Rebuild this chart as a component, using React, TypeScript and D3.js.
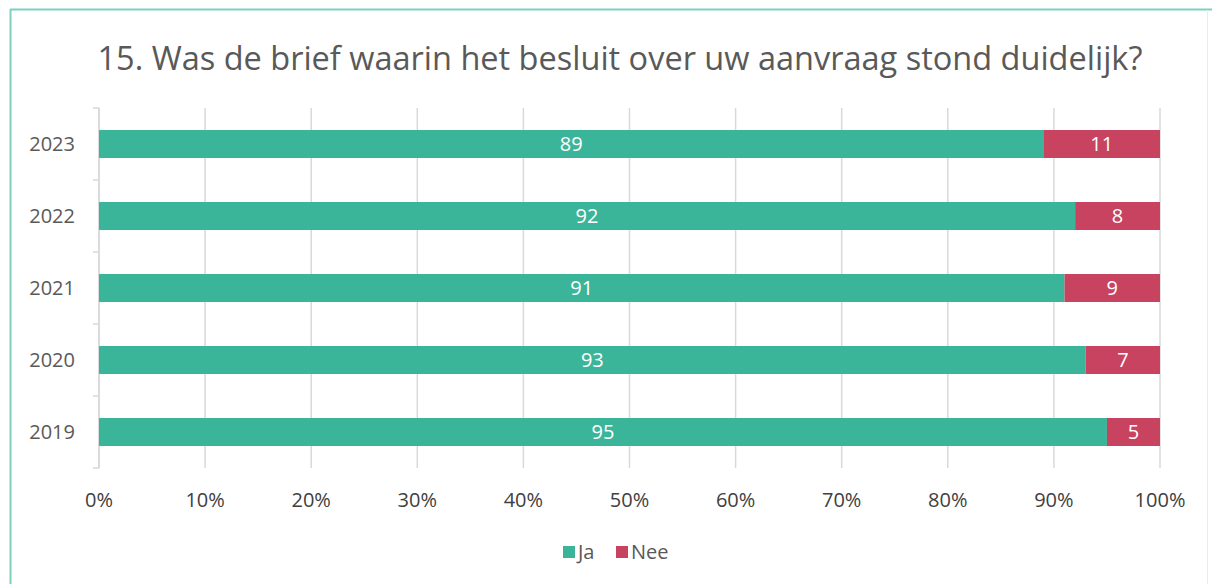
import React from "react";
import { scaleLinear, scaleBand, range } from "d3";

const years = ["2023", "2022", "2021", "2020", "2019"];
const ja = [89, 92, 91, 93, 95];
const nee = [11, 8, 9, 7, 5];
const xTicks = [0, 10, 20, 30, 40, 50, 60, 70, 80, 90, 100];
const seriesNames = ["Ja", "Nee"];
const title = "15. Was de brief waarin het besluit over uw aanvraag stond duidelijk?";

export default function App() {
  const width = 1212;
  const height = 584;
  const margin = { top: 108, right: 52, bottom: 116, left: 99 };
  const font = "'Open Sans', sans-serif";
  const colors = ["#3bb59a", "#c8435f"];
  const textGray = "#595959";
  const gridGray = "#d9d9d9";

  const x = scaleLinear().domain([0, 100]).range([margin.left, width - margin.right]);
  const y = scaleBand()
    .domain(years)
    .range([margin.top, height - margin.bottom])
    .paddingInner(0.611)
    .paddingOuter(0.3055);

  const bandEdges = range(years.length + 1).map(i => margin.top + i * y.step());

  return (
    <div style={{ position: "absolute", left: 0, top: 0 }}>
      <svg width={width} height={height} style={{ display: "block", background: "#fff" }}>
        {/* frame */}
        <line x1={10} x2={width} y1={9.5} y2={9.5} stroke="#7fcfbf" strokeWidth={2} />
        <line x1={10.5} x2={10.5} y1={9} y2={height} stroke="#7fcfbf" strokeWidth={2} />
        <line x1={1207.5} x2={1207.5} y1={10} y2={height} stroke="#ececec" strokeWidth={1} />

        <text x={620} y={70} textAnchor="middle" fontFamily={font} fontSize={32.5} fill={textGray}>
          {title}
        </text>

        {/* gridlines */}
        {xTicks.map(t => (
          <line key={`g${t}`} x1={x(t)} x2={x(t)} y1={margin.top} y2={height - margin.bottom}
            stroke={gridGray} strokeWidth={1.5} />
        ))}

        {/* category axis */}
        <line x1={x(0)} x2={x(0)} y1={margin.top} y2={height - margin.bottom} stroke={gridGray} strokeWidth={1.5} />
        {bandEdges.map((e, i) => (
          <line key={`t${i}`} x1={x(0) - 6} x2={x(0)} y1={e} y2={e} stroke={gridGray} strokeWidth={1.5} />
        ))}

        {years.map((yr, i) => {
          const y0 = y(yr)!;
          const bh = y.bandwidth();
          return (
            <g key={yr}>
              <rect x={x(0)} y={y0} width={x(ja[i]) - x(0)} height={bh} fill={colors[0]} />
              <rect x={x(ja[i])} y={y0} width={x(ja[i] + nee[i]) - x(ja[i])} height={bh} fill={colors[1]} />
              <text x={(x(0) + x(ja[i])) / 2} y={y0 + bh / 2} dy="0.36em" textAnchor="middle"
                fontFamily={font} fontSize={20} fill="#fff">{ja[i]}</text>
              <text x={(x(ja[i]) + x(ja[i] + nee[i])) / 2} y={y0 + bh / 2} dy="0.36em" textAnchor="middle"
                fontFamily={font} fontSize={20} fill="#fff">{nee[i]}</text>
              <text x={75} y={y0 + bh / 2} dy="0.36em" textAnchor="end"
                fontFamily={font} fontSize={20} fill={textGray}>{yr}</text>
            </g>
          );
        })}

        {xTicks.map(t => (
          <text key={`l${t}`} x={x(t)} y={500} dy="0.36em" textAnchor="middle"
            fontFamily={font} fontSize={20} fill="#404040">{t}%</text>
        ))}

        {/* legend */}
        {seriesNames.map((s, i) => {
          const lx = i === 0 ? 563 : 616;
          return (
            <g key={s}>
              <rect x={lx} y={546} width={12} height={12} fill={colors[i]} />
              <text x={lx + 15} y={552} dy="0.36em" fontFamily={font} fontSize={20} fill={textGray}>{s}</text>
            </g>
          );
        })}
      </svg>
    </div>
  );
}
